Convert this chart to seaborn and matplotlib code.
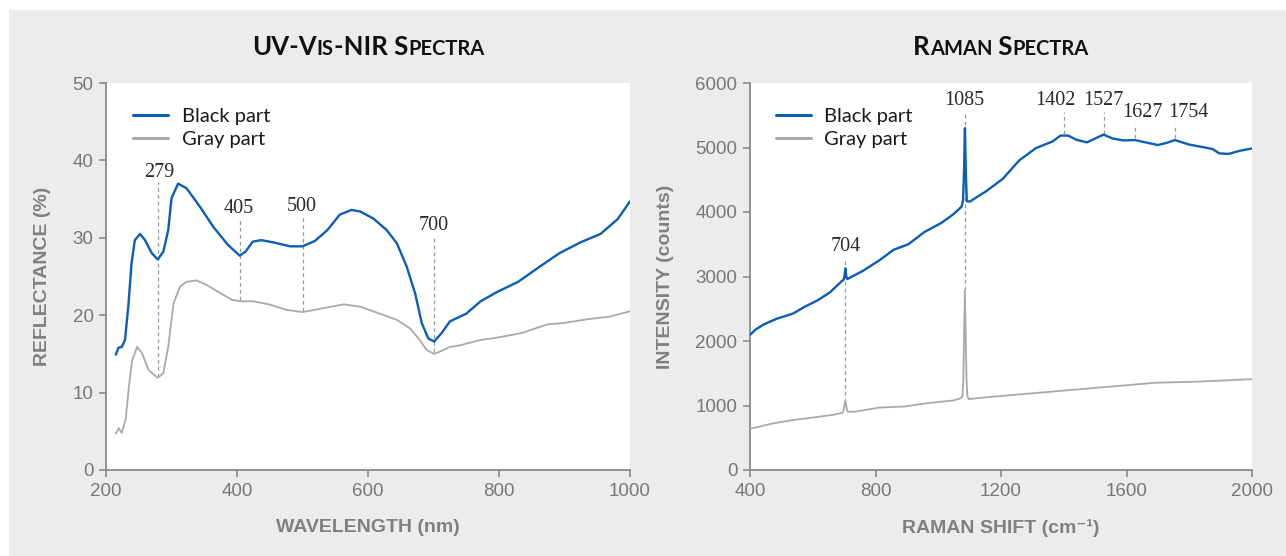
import numpy as np
import pandas as pd
import matplotlib
matplotlib.use("Agg")
import matplotlib.pyplot as plt
import seaborn as sns
from matplotlib.patches import Rectangle
from matplotlib.offsetbox import TextArea, HPacker, AnchoredOffsetbox

# ---------------- data ----------------
uv_black_x = [215, 219, 224, 229, 234, 239, 244, 252, 259.5, 270, 279, 287.5, 295, 300, 310, 323, 343.5,
              364, 386, 404, 413, 424, 437, 456, 481, 500, 519, 538, 557, 575, 588, 608, 628.5, 644, 659,
              672, 682, 692, 701, 712.5, 725, 740, 750, 772, 797, 829, 861, 892, 924, 955, 981, 1000]
uv_black_y = [14.9, 15.8, 15.9, 16.8, 21.1, 26.7, 29.7, 30.5, 29.7, 28.0, 27.2, 28.2, 31.0, 35.1, 37.0,
              36.4, 34.0, 31.4, 29.1, 27.7, 28.2, 29.5, 29.7, 29.4, 28.9, 28.9, 29.6, 31.0, 33.0, 33.6,
              33.4, 32.5, 31.0, 29.3, 26.3, 22.8, 19.0, 17.0, 16.6, 17.7, 19.2, 19.8, 20.2, 21.8, 23.0,
              24.3, 26.2, 28.0, 29.4, 30.5, 32.4, 34.7]
uv_gray_x = [215, 219.5, 224, 230, 235, 240, 247.5, 255, 265, 279, 287.5, 295, 303, 313, 323, 338, 354,
             371.5, 392, 405, 424, 449, 475, 500, 525, 563, 588, 618, 644, 664, 679, 689.5, 701, 712.5,
             725, 740, 772, 797, 835, 873, 899, 937, 968, 1000]
uv_gray_y = [4.7, 5.4, 4.8, 6.5, 10.8, 14.2, 15.9, 15.1, 12.9, 11.9, 12.5, 15.9, 21.5, 23.7, 24.3, 24.5,
             23.9, 23.0, 22.0, 21.8, 21.8, 21.4, 20.7, 20.4, 20.8, 21.4, 21.1, 20.2, 19.4, 18.3, 16.8,
             15.5, 15.0, 15.4, 15.9, 16.1, 16.8, 17.1, 17.7, 18.8, 19.0, 19.5, 19.8, 20.5]

raman_black_x = [400, 418, 445, 484, 537, 576, 615, 655, 694, 698, 701, 704, 707, 710, 759, 812, 858, 904,
                 956, 1009, 1048, 1074, 1079, 1082, 1085, 1088, 1091, 1100, 1153, 1206, 1258, 1311, 1364,
                 1390, 1414, 1440, 1474, 1500, 1527, 1555, 1590, 1627, 1660, 1700, 1730, 1754, 1800, 1850,
                 1875, 1895, 1925, 1962, 2000]
raman_black_y = [2095, 2178, 2260, 2343, 2425, 2535, 2629, 2755, 2935, 2945, 3000, 3125, 3000, 2960, 3085,
                 3250, 3415, 3498, 3690, 3828, 3965, 4080, 4180, 4600, 5300, 4600, 4170, 4160, 4323, 4516,
                 4800, 4990, 5093, 5185, 5185, 5120, 5079, 5140, 5200, 5140, 5110, 5115, 5080, 5038, 5075,
                 5115, 5045, 5000, 4975, 4910, 4900, 4950, 4985]
raman_gray_x = [400, 471, 537, 602, 668, 694, 697, 700, 704, 708, 711, 733, 812, 891, 969, 1048, 1070,
                1077, 1080, 1082, 1085, 1088, 1090, 1093, 1097, 1166, 1297, 1428, 1561, 1692, 1823, 2000]
raman_gray_y = [638, 720, 775, 814, 858, 885, 900, 980, 1075, 960, 905, 902, 968, 984, 1039, 1078, 1110,
                1140, 1400, 2000, 2790, 2000, 1400, 1140, 1100, 1133, 1188, 1243, 1298, 1353, 1369, 1408]

uv_marks = [279, 405, 500, 700]
uv_mark_text_x = [282, 403, 499, 700]
uv_mark_text_y = [38.5, 33.8, 34.1, 31.65]
uv_mark_top = [37.2, 32.5, 32.7, 30.1]
uv_mark_bottom = [12.0, 22.0, 20.6, 15.2]

raman_marks = [704, 1085, 1402, 1527, 1627, 1754]
raman_mark_text_x = [705, 1083, 1372, 1526, 1652, 1797]
raman_mark_text_y = [3461, 5735, 5735, 5735, 5543, 5543]
raman_mark_top = [3281, 5554, 5554, 5554, 5357, 5357]
raman_mark_bottom = [1060, 2790, 5202, 5210, 5140, 5140]

uv_xticks = [200, 400, 600, 800, 1000]
uv_yticks = [0, 10, 20, 30, 40, 50]
raman_xticks = [400, 800, 1200, 1600, 2000]
raman_yticks = [0, 1000, 2000, 3000, 4000, 5000, 6000]

series_labels = ["Black part", "Gray part"]

# ---------------- style ----------------
sns.set_style("ticks")
BLUE = "#0b5db6"
GRAY = "#a9a9a9"
PANEL = "#ececec"
AXC = "#8a8a8a"
TICKC = "#777777"
LABC = "#808080"
plt.rcParams["font.family"] = ["Liberation Sans", "DejaVu Sans"]

fig = plt.figure(figsize=(12.86, 5.56), dpi=100, facecolor="white")
fig.patches.append(Rectangle((9 / 1286, 0), 1 - 9 / 1286, 1 - 10 / 556, transform=fig.transFigure,
                             facecolor=PANEL, edgecolor="none", zorder=-10))

W, H = 1286, 556
ax1 = fig.add_axes([106 / W, (H - 470) / H, 524 / W, 387 / H])
ax2 = fig.add_axes([750 / W, (H - 470) / H, 502 / W, 387 / H])

df_uv = pd.concat([
    pd.DataFrame({"x": uv_black_x, "y": uv_black_y, "part": series_labels[0]}),
    pd.DataFrame({"x": uv_gray_x, "y": uv_gray_y, "part": series_labels[1]}),
])
df_ra = pd.concat([
    pd.DataFrame({"x": raman_black_x, "y": raman_black_y, "part": series_labels[0]}),
    pd.DataFrame({"x": raman_gray_x, "y": raman_gray_y, "part": series_labels[1]}),
])
pal = {series_labels[0]: BLUE, series_labels[1]: GRAY}

for ax, df in ((ax1, df_uv), (ax2, df_ra)):
    sns.lineplot(data=df, x="x", y="y", hue="part", palette=pal, ax=ax, sort=False,
                 estimator=None, hue_order=series_labels, zorder=3)
    for ln, lw in zip(ax.lines, (1.7, 1.3)):
        ln.set_linewidth(lw)
        ln.set_solid_joinstyle("round")

def annotate(ax, xs, txs, tys, tops, bots):
    for x, tx, ty, t, b in zip(xs, txs, tys, tops, bots):
        ax.plot([x, x], [b, t], color="#9a9a9a", lw=0.9, ls=(0, (3, 2.5)), zorder=2)
        ax.text(tx, ty, str(x), ha="center", va="center", fontsize=14.5,
                family=["Liberation Serif", "DejaVu Serif"], color="#2a2a2a", zorder=4)

annotate(ax1, uv_marks, uv_mark_text_x, uv_mark_text_y, uv_mark_top, uv_mark_bottom)
annotate(ax2, raman_marks, raman_mark_text_x, raman_mark_text_y, raman_mark_top, raman_mark_bottom)

def style(ax, xlim, ylim, xt, yt, xlabel, ylabel, ylab_x):
    ax.set_xlim(*xlim)
    ax.set_ylim(*ylim)
    ax.set_xticks(xt)
    ax.set_yticks(yt)
    ax.set_facecolor("white")
    for s in ("top", "right"):
        ax.spines[s].set_visible(False)
    for s in ("left", "bottom"):
        ax.spines[s].set_color(AXC)
        ax.spines[s].set_linewidth(1.3)
    ax.tick_params(axis="both", direction="out", length=5, width=1.2, color=AXC,
                   labelcolor=TICKC, labelsize=13.5, pad=4)
    ax.set_xlabel(xlabel, fontsize=14, fontweight="bold", color=LABC, va="center")
    ax.set_ylabel(ylabel, fontsize=14, fontweight="bold", color=LABC, va="center")
    ax.xaxis.set_label_coords(0.5, (470 - 528) / 387)
    ax.yaxis.set_label_coords(ylab_x, 0.5)
    leg = ax.legend(loc="upper left", bbox_to_anchor=(0.052, 0.935), frameon=False,
                    borderpad=0, borderaxespad=0, handlelength=1.75, handletextpad=0.65,
                    labelspacing=0.3, prop={"family": ["Lato", "DejaVu Sans"], "size": 14.5})
    for h in leg.get_lines():
        h.set_linewidth(2.2)
    for t in leg.get_texts():
        t.set_color("#1a1a1a")

style(ax1, (200, 1000), (0, 50), uv_xticks, uv_yticks, "WAVELENGTH (nm)", "REFLECTANCE (%)",
      (43 - 106) / 524)
style(ax2, (400, 2000), (0, 6000), raman_xticks, raman_yticks, "RAMAN SHIFT (cm\u207b\u00b9)",
      "INTENSITY (counts)", (665 - 750) / 502)

def smallcaps_title(ax, parts, y):
    kids = []
    for s, small in parts:
        kids.append(TextArea(s, textprops=dict(fontsize=14.5 if small else 18.5, fontweight="bold",
                                               family=["Lato", "DejaVu Sans"], color="#111111")))
    box = HPacker(children=kids, align="baseline", pad=0, sep=0)
    anc = AnchoredOffsetbox(loc="center", child=box, pad=0, borderpad=0, frameon=False,
                            bbox_to_anchor=(0.5, y), bbox_transform=ax.transAxes)
    ax.add_artist(anc)

smallcaps_title(ax1, [("UV-V", False), ("IS", True), ("-NIR S", False), ("PECTRA", True)],
                (470 - 47) / 387)
smallcaps_title(ax2, [("R", False), ("AMAN", True), (" S", False), ("PECTRA", True)],
                (470 - 47) / 387)

fig.savefig("out.png", dpi=100, facecolor=fig.get_facecolor())
